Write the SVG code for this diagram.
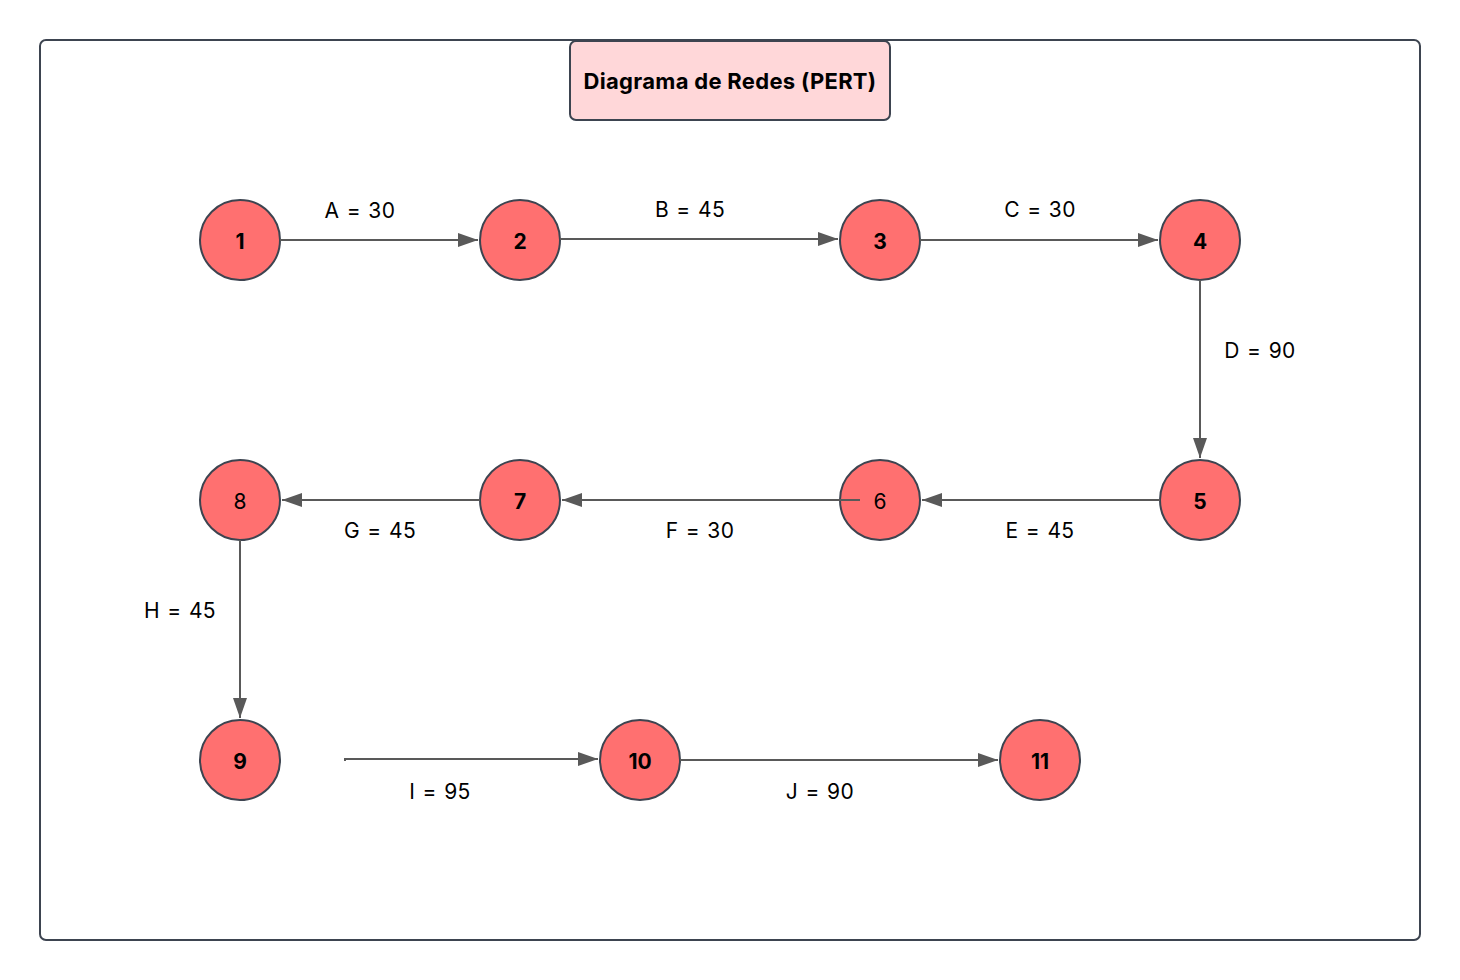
<svg xmlns="http://www.w3.org/2000/svg" width="1460" height="980" viewBox="0 0 1460 980">
<defs>
<marker id="arr" viewBox="0 0 20 14" refX="20" refY="7" markerWidth="20" markerHeight="14" markerUnits="userSpaceOnUse" orient="auto">
<path d="M0,0 L20,7 L0,14 Z" fill="#595959"/>
</marker>
<style>
.frame{fill:#ffffff;stroke:#3d4450;stroke-width:2}
.title{fill:#ffd7d9;stroke:#3d4450;stroke-width:2}
.node{fill:#ff7070;stroke:#3d4450;stroke-width:2}
.edge{fill:none;stroke:#595959;stroke-width:2}
.nl{font-family:Inter,"Liberation Sans",sans-serif;font-size:21px;font-weight:700;fill:#000;text-anchor:middle;dominant-baseline:central}
.nl.n{font-weight:400}
.el{font-family:Inter,"Liberation Sans",sans-serif;font-size:21px;letter-spacing:0.4px;word-spacing:1px;fill:#000;text-anchor:middle;dominant-baseline:central}
.tt{font-family:Inter,"Liberation Sans",sans-serif;font-size:22px;letter-spacing:0.3px;font-weight:700;fill:#000;text-anchor:middle;dominant-baseline:central}
</style>
</defs>
<rect width="1460" height="980" fill="#ffffff"/>
<rect class="frame" x="40" y="40" width="1380" height="900" rx="6"/>
<g id="title">
<rect class="title" x="570" y="41" width="320" height="79" rx="6"/>
<text class="tt" x="730" y="81">Diagrama de Redes (PERT)</text>
</g>
<g id="nodes-bg">
<g id="n1"><circle class="node" cx="240" cy="240" r="40"/><text class="nl" x="240" y="241">1</text></g>
<g id="n2"><circle class="node" cx="520" cy="240" r="40"/><text class="nl" x="520" y="241">2</text></g>
<g id="n3"><circle class="node" cx="880" cy="240" r="40"/><text class="nl" x="880" y="241">3</text></g>
<g id="n4"><circle class="node" cx="1200" cy="240" r="40"/><text class="nl" x="1200" y="241">4</text></g>
<g id="n5"><circle class="node" cx="1200" cy="500" r="40"/><text class="nl" x="1200" y="501">5</text></g>
<g id="n6"><circle class="node" cx="880" cy="500" r="40"/><text class="nl n" x="880" y="501">6</text></g>
<g id="n7"><circle class="node" cx="520" cy="500" r="40"/><text class="nl" x="520" y="501">7</text></g>
<g id="n8"><circle class="node" cx="240" cy="500" r="40"/><text class="nl n" x="240" y="501">8</text></g>
<g id="n9"><circle class="node" cx="240" cy="760" r="40"/><text class="nl" x="240" y="761">9</text></g>
<g id="n10"><circle class="node" cx="640" cy="760" r="40"/><text class="nl" x="640" y="761">10</text></g>
<g id="n11"><circle class="node" cx="1040" cy="760" r="40"/><text class="nl" x="1040" y="761">11</text></g>
</g>
<g id="connectors">
<path class="edge" d="M280,240 L478,240" marker-end="url(#arr)"/>
<path class="edge" d="M560,239 L838,239" marker-end="url(#arr)"/>
<path class="edge" d="M920,240 L1158,240" marker-end="url(#arr)"/>
<path class="edge" d="M1200,280 L1200,458" marker-end="url(#arr)"/>
<path class="edge" d="M1160,500 L922,500" marker-end="url(#arr)"/>
<path class="edge" d="M860,500 L562,500" marker-end="url(#arr)"/>
<path class="edge" d="M480,500 L282,500" marker-end="url(#arr)"/>
<path class="edge" d="M240,540 L240,718" marker-end="url(#arr)"/>
<path class="edge" d="M345,761 L345,759 L598,759" marker-end="url(#arr)"/>
<path class="edge" d="M680,760 L998,760" marker-end="url(#arr)"/>
<text class="el" x="360" y="210">A = 30</text>
<text class="el" x="690" y="209">B = 45</text>
<text class="el" x="1040" y="209">C = 30</text>
<text class="el" x="1260" y="350">D = 90</text>
<text class="el" x="1040" y="530">E = 45</text>
<text class="el" x="700" y="530">F = 30</text>
<text class="el" x="380" y="530">G = 45</text>
<text class="el" x="180" y="610">H = 45</text>
<text class="el" x="440" y="791">I = 95</text>
<text class="el" x="820" y="791">J = 90</text>
</g>
</svg>
